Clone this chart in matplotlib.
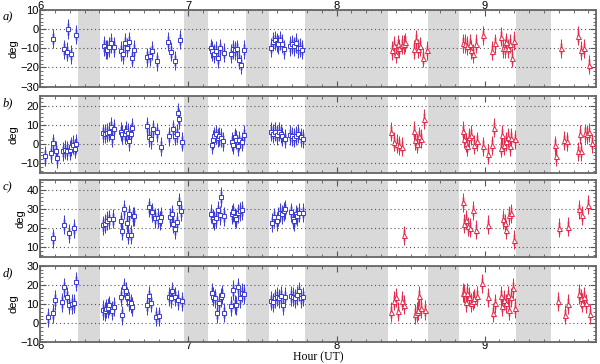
import matplotlib
matplotlib.use("Agg")
import matplotlib.pyplot as plt
import numpy as np
from matplotlib.ticker import MultipleLocator

# gaps in the data (hours UT)
gaps = [(6.258, 6.404), (6.972, 7.133), (7.387, 7.542), (7.79, 8.345),
        (8.62, 8.83), (9.214, 9.446)]

# panel a)
a_blue_t = [6.084, 6.159, 6.18, 6.19, 6.21, 6.243,
            6.429, 6.441, 6.453, 6.465, 6.477, 6.499, 6.542, 6.559, 6.573, 6.586, 6.6, 6.622, 6.634,
            6.723, 6.74, 6.752, 6.79, 6.86, 6.882, 6.91, 6.942,
            7.152, 7.159, 7.173, 7.186, 7.198, 7.212, 7.241, 7.289, 7.301, 7.313, 7.325, 7.34, 7.352, 7.373,
            7.561, 7.571, 7.583, 7.595, 7.607, 7.619, 7.634, 7.648, 7.687, 7.701, 7.713, 7.728, 7.74, 7.754, 7.769]
a_blue_v = [-5.0, -10.4, -11.8, 0.1, -13.2, -2.9,
            -8.8, -10.4, -10.7, -9.3, -7.2, -9.3, -11.4, -13.0, -7.2, -9.6, -6.5, -15.0, -10.9,
            -14.6, -14.1, -11.2, -16.7, -6.5, -11.8, -16.4, -5.4,
            -10.0, -11.4, -12.8, -11.2, -15.3, -10.0, -12.3, -12.8, -10.4, -11.1, -10.4, -16.0, -18.5, -10.7,
            -9.6, -6.6, -5.8, -7.0, -7.9, -5.9, -7.5, -10.4, -8.8, -7.9, -8.9, -7.2, -10.0, -9.6, -10.7]
a_red_t = [8.373, 8.388, 8.402, 8.412, 8.424, 8.439, 8.453, 8.465, 8.523, 8.537, 8.549, 8.564, 8.581, 8.612,
           8.851, 8.87, 8.884, 8.899, 8.911, 8.923, 8.94, 8.99, 9.05, 9.07, 9.108, 9.123, 9.137, 9.147,
           9.159, 9.171, 9.183, 9.2,
           9.518, 9.631, 9.648, 9.667, 9.701]
a_red_v = [-11.1, -8.4, -12.8, -7.9, -10.0, -8.1, -7.9, -6.8, -10.4, -5.6, -10.2, -8.9, -15.0, -11.1,
           -7.3, -7.5, -8.6, -7.5, -10.7, -12.8, -7.7, -3.3, -11.2, -7.3, -4.0, -10.0, -10.0, -6.8,
           -10.0, -7.7, -15.0, -6.1,
           -10.0, -3.5, -11.1, -10.0, -18.5]

# panel b)
b_blue_t = [6.031, 6.072, 6.084, 6.104, 6.113, 6.152, 6.169, 6.183, 6.198, 6.21, 6.222, 6.234, 6.243,
            6.422, 6.439, 6.451, 6.463, 6.475, 6.487, 6.501, 6.542, 6.554, 6.569, 6.581, 6.59, 6.602, 6.61, 6.622,
            6.723, 6.735, 6.745, 6.764, 6.79, 6.814, 6.872, 6.894, 6.908, 6.92, 6.93, 6.94, 6.957,
            7.157, 7.164, 7.173, 7.186, 7.198, 7.21, 7.222, 7.236, 7.292, 7.304, 7.313, 7.323, 7.333, 7.345,
            7.361, 7.373,
            7.561, 7.573, 7.585, 7.598, 7.61, 7.622, 7.634, 7.651, 7.687, 7.701, 7.713, 7.728, 7.742, 7.757, 7.771]
b_blue_v = [-6.3, -4.9, 0.4, -3.5, -7.4, -3.9, -3.0, -3.5, -3.2, -1.4, -0.4, -2.6, 0.0,
            5.6, 5.3, 5.8, 6.3, 8.8, 3.5, 7.9, 6.3, 4.9, 4.9, 6.7, 5.8, 1.4, 5.3, 8.4,
            9.1, 3.5, 2.3, 7.7, 6.0, -1.4, 3.9, 7.7, 4.2, 5.3, 16.1, 13.0, 1.1,
            -0.4, 2.1, 3.9, 4.9, 3.2, 3.9, 3.2, 1.4, 1.1, -0.4, 3.5, 2.1, -1.2, 1.8,
            1.1, 4.6,
            6.3, 5.3, 6.3, 4.6, 6.3, 5.3, 3.9, 2.8, 4.6, 3.9, 3.2, 4.2, 5.3, 3.5, 2.8]
b_red_t = [8.371, 8.39, 8.405, 8.419, 8.443, 8.52, 8.53, 8.542, 8.554, 8.573, 8.59,
           8.851, 8.863, 8.872, 8.882, 8.896, 8.906, 8.93, 8.945, 8.988, 9.022, 9.05, 9.06, 9.108, 9.12,
           9.133, 9.145, 9.159, 9.171, 9.181, 9.205,
           9.472, 9.482, 9.537, 9.557, 9.631, 9.643, 9.653, 9.675, 9.689, 9.706, 9.723]
b_red_v = [6.3, 1.1, 0.0, -0.7, -1.4, 6.7, 1.8, 0.0, 4.0, 2.8, 13.0,
           6.7, 2.8, 0.5, -1.2, 3.5, 4.6, -0.4, 1.4, -1.2, -5.3, -0.7, 8.4, -2.1, 4.6,
           -0.7, 1.4, 3.5, -1.2, 3.2, 2.3,
           -0.7, -6.3, 1.8, 1.4, -3.9, 4.9, -3.9, 5.6, 4.9, 6.0, 0.4]

# panel c)
c_blue_t = [6.084, 6.164, 6.193, 6.231,
            6.422, 6.434, 6.448, 6.463, 6.494, 6.545, 6.554, 6.564, 6.583, 6.593, 6.602, 6.614, 6.624, 6.636,
            6.735, 6.752, 6.776, 6.795, 6.807, 6.814, 6.875, 6.887, 6.896, 6.908, 6.92, 6.94, 6.952,
            7.152, 7.164, 7.173, 7.186, 7.198, 7.212, 7.222, 7.243, 7.292, 7.301, 7.313, 7.323, 7.333, 7.349, 7.364,
            7.566, 7.581, 7.595, 7.607, 7.619, 7.631, 7.643, 7.655, 7.694, 7.706, 7.716, 7.725, 7.735, 7.745, 7.773]
c_blue_v = [14.6, 21.7, 17.2, 19.8,
            21.4, 22.1, 23.8, 24.4, 24.7, 23.5, 18.6, 29.6, 22.8, 16.5, 27.0, 16.5, 26.1, 26.1,
            30.8, 28.2, 25.2, 25.2, 23.8, 25.9, 25.6, 27.0, 22.1, 19.3, 23.1, 33.1, 28.7,
            27.3, 24.9, 23.8, 25.2, 29.1, 26.6, 36.1, 26.1, 27.0, 28.2, 25.6, 24.9, 27.7, 28.7, 29.1,
            22.8, 25.6, 23.5, 25.9, 28.0, 27.0, 28.7, 29.6, 28.2, 24.4, 23.5, 27.0, 26.1, 27.9, 28.0]
c_red_t = [8.453, 8.851, 8.863, 8.877, 8.887, 8.904, 8.92, 8.94, 9.022, 9.123, 9.137, 9.147, 9.166, 9.176, 9.2,
           9.499, 9.559, 9.639, 9.658, 9.699]
c_red_v = [16.2, 33.3, 22.1, 24.2, 20.9, 20.0, 29.1, 19.1, 21.7, 24.5, 22.4, 19.1, 26.6, 27.7, 13.9,
           20.0, 20.7, 29.6, 26.6, 32.2]

# panel d)
d_blue_t = [6.053, 6.084, 6.101, 6.149, 6.161, 6.181, 6.195, 6.212, 6.227, 6.243,
            6.422, 6.434, 6.443, 6.455, 6.467, 6.482, 6.501, 6.542, 6.554, 6.564, 6.578, 6.588, 6.598, 6.61, 6.622,
            6.723, 6.735, 6.747, 6.783, 6.802, 6.867, 6.882, 6.892, 6.911, 6.93, 6.954,
            7.157, 7.169, 7.181, 7.195, 7.205, 7.217, 7.229, 7.243, 7.287, 7.301, 7.313, 7.323, 7.333, 7.347,
            7.361, 7.373,
            7.561, 7.573, 7.585, 7.598, 7.61, 7.622, 7.636, 7.651, 7.692, 7.706, 7.72, 7.735, 7.747, 7.759, 7.773]
d_blue_v = [3.0, 5.1, 12.1, 11.0, 18.7, 13.8, 9.7, 10.0, 10.3, 21.7,
            6.9, 6.3, 7.6, 7.9, 9.3, 6.5, 8.6, 13.8, 4.2, 18.7, 16.6, 13.8, 11.2, 10.3, 8.6,
            9.3, 14.2, 10.7, 3.4, 3.7, 13.8, 13.1, 16.6, 13.8, 12.1, 11.4,
            15.9, 13.8, 13.1, 5.1, 10.7, 13.5, 14.9, 5.5, 9.0, 17.3, 9.7, 9.3, 18.7, 13.1,
            15.9, 15.2,
            11.7, 11.0, 13.1, 13.8, 13.1, 14.2, 9.3, 13.8, 14.2, 13.8, 13.1, 14.5, 16.6, 13.1, 13.8]
d_red_t = [8.371, 8.39, 8.402, 8.417, 8.439, 8.458, 8.53, 8.54, 8.549, 8.559, 8.569, 8.6,
           8.851, 8.863, 8.875, 8.884, 8.896, 8.906, 8.918, 8.93, 8.945, 8.981, 9.022, 9.055, 9.07, 9.108,
           9.12, 9.133, 9.142, 9.157, 9.166, 9.181, 9.19, 9.205,
           9.492, 9.542, 9.561, 9.639, 9.651, 9.66, 9.667, 9.687, 9.711]
d_red_v = [5.8, 11.7, 13.5, 6.2, 11.7, 9.7, 4.8, 5.8, 6.9, 14.2, 7.9, 6.9,
           15.9, 15.6, 11.0, 15.9, 13.8, 10.7, 11.7, 13.1, 14.2, 20.8, 13.5, 5.5, 10.3, 14.2,
           9.0, 12.1, 10.3, 14.5, 6.9, 13.5, 18.4, 7.9,
           11.4, 4.4, 10.0, 15.2, 13.1, 10.7, 13.8, 10.3, 4.8]

panels = [("a)", a_blue_t, a_blue_v, a_red_t, a_red_v, (-30, 10)),
          ("b)", b_blue_t, b_blue_v, b_red_t, b_red_v, (-15, 25)),
          ("c)", c_blue_t, c_blue_v, c_red_t, c_red_v, (5, 45)),
          ("d)", d_blue_t, d_blue_v, d_red_t, d_red_v, (-10, 30))]

ERR_OUT = 5.0   # thin dark bar
ERR_IN = 3.0    # wide light bar

plt.rcParams['font.family'] = ['Liberation Sans', 'DejaVu Sans']
fig = plt.figure(figsize=(6.0, 3.64), dpi=100)

left, right = 0.067, 0.993
tops = [0.9725, 0.7363, 0.5055, 0.270]
h = 0.2105

for i, (lab, bt, bv, rt, rv, ylim) in enumerate(panels):
    ax = fig.add_axes([left, tops[i] - h, right - left, h])
    for g0, g1 in gaps:
        ax.axvspan(g0, g1, color='#d9d9d9', lw=0, zorder=0)
    for t, v, dark, light, mk, ms in [(bt, bv, '#3a3ad6', '#b0b0f4', 's', 3.0),
                                      (rt, rv, '#e2284a', '#f7aab4', '^', 3.6)]:
        ax.errorbar(t, v, yerr=ERR_IN, fmt='none', ecolor=light, elinewidth=2.0, zorder=2)
        ax.errorbar(t, v, yerr=ERR_OUT, fmt='none', ecolor=dark, elinewidth=0.7, zorder=3)
        ax.plot(t, v, mk, ms=ms, mfc='white', mec=dark, mew=0.7, zorder=4)
    ax.set_xlim(6.0, 9.75)
    ax.set_ylim(*ylim)
    ax.yaxis.set_major_locator(MultipleLocator(10))
    ax.yaxis.set_minor_locator(MultipleLocator(2))
    ax.xaxis.set_major_locator(MultipleLocator(1))
    ax.xaxis.set_minor_locator(MultipleLocator(0.1))
    ax.grid(axis='y', which='major', ls=(0, (1, 2.5)), color='#555555', lw=0.8, zorder=1)
    ax.tick_params(which='both', direction='in', top=True, right=True, colors='#555555',
                   labelcolor='black', labelsize=8, pad=1)
    ax.tick_params(which='major', length=4)
    ax.tick_params(which='minor', length=2)
    ax.tick_params(axis='x', labelbottom=(i == 3), labeltop=(i == 0), pad=-1)
    for s in ax.spines.values():
        s.set_color('#666666')
        s.set_linewidth(1.3)
    ax.set_ylabel('deg', fontsize=8, labelpad=1)
    fig.text(0.005, tops[i] - 0.02, lab, fontsize=9, style='italic',
             family=['Liberation Serif', 'DejaVu Serif'], va='center', ha='left')
    if i == 3:
        ax.set_xlabel('Hour (UT)', fontsize=8.5, family=['Liberation Serif', 'DejaVu Serif'], labelpad=0)

fig.savefig('out.png', dpi=100)
